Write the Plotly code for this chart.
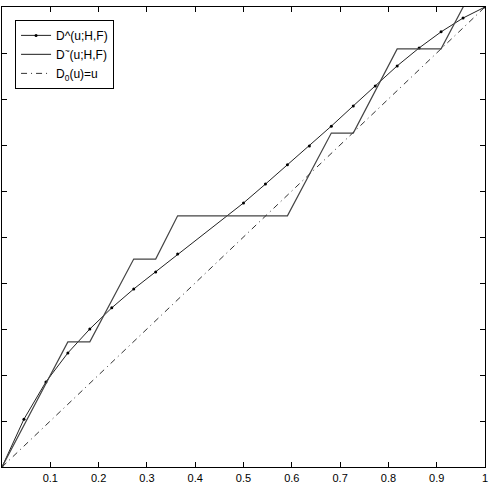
import plotly.graph_objects as go

# D^ estimate (points at u = k/22)
dhat_k = [0, 1, 2, 3, 4, 5, 6, 7, 8, 11, 12, 13, 14, 15, 16, 17, 18, 19, 20, 21, 22]
dhat_y = [0.0, 0.104, 0.185, 0.248, 0.300, 0.346, 0.387, 0.424, 0.463, 0.574,
          0.615, 0.657, 0.698, 0.741, 0.785, 0.828, 0.872, 0.911, 0.946, 0.976, 1.0]

# D~ step-like estimate (vertices at u = k/22)
dtil_k = [0, 3, 4, 6, 7, 8, 13, 15, 16, 18, 20, 22]
dtil_y = [0.0, 0.272, 0.272, 0.452, 0.452, 0.546, 0.546, 0.726, 0.726, 0.909, 0.909, 1.09]

# reference line D0(u) = u
d0_u = [0.0, 1.0]
d0_y = [0.0, 1.0]

N = 22
dhat_u = [k / N for k in dhat_k]
dtil_u = [k / N for k in dtil_k]

FONT = "Liberation Sans, Arial, Helvetica, sans-serif"

fig = go.Figure()
fig.add_trace(go.Scatter(
    x=dhat_u, y=dhat_y, mode="lines+markers", name="D^(u;H,F)",
    line=dict(color="#222222", width=1),
    marker=dict(color="#000000", size=3),
))
fig.add_trace(go.Scatter(
    x=dtil_u, y=dtil_y, mode="lines", name="D<sup>~</sup>(u;H,F)",
    line=dict(color="#444444", width=1.2),
))
fig.add_trace(go.Scatter(
    x=d0_u, y=d0_y, mode="lines", name="D<sub>0</sub>(u)=u",
    line=dict(color="#333333", width=1, dash="6px,4px,1px,4px"),
))

fig.update_layout(
    width=491, height=483,
    margin=dict(l=2, r=6, t=7, b=16, autoexpand=False),
    paper_bgcolor="white", plot_bgcolor="white",
    font=dict(family=FONT, size=11, color="black"),
    showlegend=True,
    legend=dict(
        x=0.027, y=0.972, xanchor="left", yanchor="top",
        bgcolor="white", bordercolor="black", borderwidth=1,
        font=dict(family=FONT, size=12, color="black"),
        itemwidth=30, tracegroupgap=0,
    ),
    xaxis=dict(
        range=[0, 1], tickvals=[i / 10 for i in range(11)],
        ticks="inside", ticklen=5, tickcolor="black",
        showline=True, linecolor="black", linewidth=1, mirror="ticks",
        showgrid=False, zeroline=False, automargin=False,
        tickfont=dict(family=FONT, size=11),
        ticklabelstandoff=1,
    ),
    yaxis=dict(
        range=[0, 1], tickvals=[i / 10 for i in range(11)],
        ticks="inside", ticklen=5, tickcolor="black",
        showline=True, linecolor="black", linewidth=1, mirror="ticks",
        showgrid=False, zeroline=False, showticklabels=False, automargin=False,
    ),
)

fig.write_html("out.html")
